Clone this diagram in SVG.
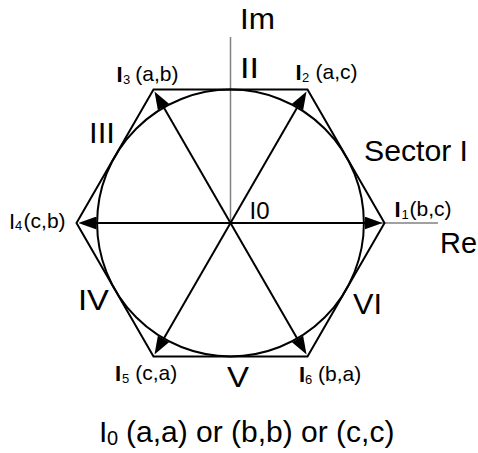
<svg xmlns="http://www.w3.org/2000/svg" width="478" height="453" viewBox="0 0 478 453">
<defs>
<style>
text{font-family:"Liberation Sans",Arial,sans-serif;fill:#000}
.big{font-size:30px}
.lbl{font-size:21px}
.bi{font-size:22px;font-weight:bold}
.ri{font-size:22px}
.sub{font-size:13px}
.axis{stroke:#808080;stroke-width:1.5;fill:none}
.edge{stroke:#000;stroke-width:2;fill:none}
.vec{stroke:#000;stroke-width:2;fill:none;marker-end:url(#ah)}
</style>
<marker id="ah" viewBox="0 0 18 13" refX="6" refY="6.5" markerWidth="18" markerHeight="13" markerUnits="userSpaceOnUse" orient="auto">
<path d="M0,0 L18,6.5 L0,13 z" fill="#000"/>
</marker>
</defs>
<rect width="478" height="453" fill="#fff"/>
<g id="axes">
<line class="axis" x1="230.5" y1="37" x2="230.5" y2="223"/>
<line class="axis" x1="230.5" y1="223" x2="438" y2="223"/>
<text class="big" x="240" y="29" textLength="35" lengthAdjust="spacingAndGlyphs">Im</text>
<text class="big" x="440" y="253" textLength="37" lengthAdjust="spacingAndGlyphs">Re</text>
</g>
<g id="hexagon">
<polygon class="edge" points="384.5,223 307.5,89.6 153.5,89.6 76.5,223 153.5,356.4 307.5,356.4"/>
<circle class="edge" cx="230.5" cy="223" r="133.4"/>
</g>
<g id="connectors">
<line class="vec" x1="230.5" y1="223" x2="370.5" y2="223"/>
<line class="vec" x1="230.5" y1="223" x2="300.5" y2="101.8"/>
<line class="vec" x1="230.5" y1="223" x2="160.5" y2="101.8"/>
<line class="vec" x1="230.5" y1="223" x2="90.5" y2="223"/>
<line class="vec" x1="230.5" y1="223" x2="160.5" y2="344.2"/>
<line class="vec" x1="230.5" y1="223" x2="300.5" y2="344.2"/>
</g>
<g id="sectors">
<text class="big" x="364" y="161" textLength="104" lengthAdjust="spacingAndGlyphs">Sector I</text>
<text class="big" x="240" y="78" textLength="19" lengthAdjust="spacingAndGlyphs">II</text>
<text class="big" x="89" y="143" textLength="26" lengthAdjust="spacingAndGlyphs">III</text>
<text class="big" x="78" y="310" textLength="31" lengthAdjust="spacingAndGlyphs">IV</text>
<text class="big" x="227" y="387" textLength="22" lengthAdjust="spacingAndGlyphs">V</text>
<text class="big" x="353" y="314" textLength="29" lengthAdjust="spacingAndGlyphs">VI</text>
</g>
<g id="I0">
<text style="font-size:24px" x="249.5" y="219">I0</text>
</g>
<g id="I1">
<text class="bi" x="394.5" y="217">I</text>
<text class="sub" x="401.5" y="219">1</text>
<text class="lbl" x="409.6" y="215.5">(b,c)</text>
</g>
<g id="I2">
<text class="bi" x="295.5" y="80">I</text>
<text class="sub" x="302" y="82">2</text>
<text class="lbl" x="315.6" y="79">(a,c)</text>
</g>
<g id="I3">
<text class="bi" x="116.5" y="82">I</text>
<text class="sub" x="123" y="84">3</text>
<text class="lbl" x="135.3" y="81">(a,b)</text>
</g>
<g id="I4">
<text class="ri" x="9" y="229">I</text>
<text class="sub" x="15" y="230">4</text>
<text class="lbl" x="23.6" y="227.5">(c,b)</text>
</g>
<g id="I5">
<text class="bi" x="115" y="381">I</text>
<text class="sub" x="122" y="383">5</text>
<text class="lbl" x="135.3" y="379.5">(c,a)</text>
</g>
<g id="I6">
<text class="bi" x="299" y="382">I</text>
<text class="sub" x="305" y="384">6</text>
<text class="lbl" x="318" y="380.5">(b,a)</text>
</g>
<g id="caption">
<text class="big" x="99" y="442">I</text>
<text style="font-size:20px" x="107" y="445">0</text>
<text class="big" x="126" y="442">(a,a) or (b,b) or (c,c)</text>
</g>
</svg>
